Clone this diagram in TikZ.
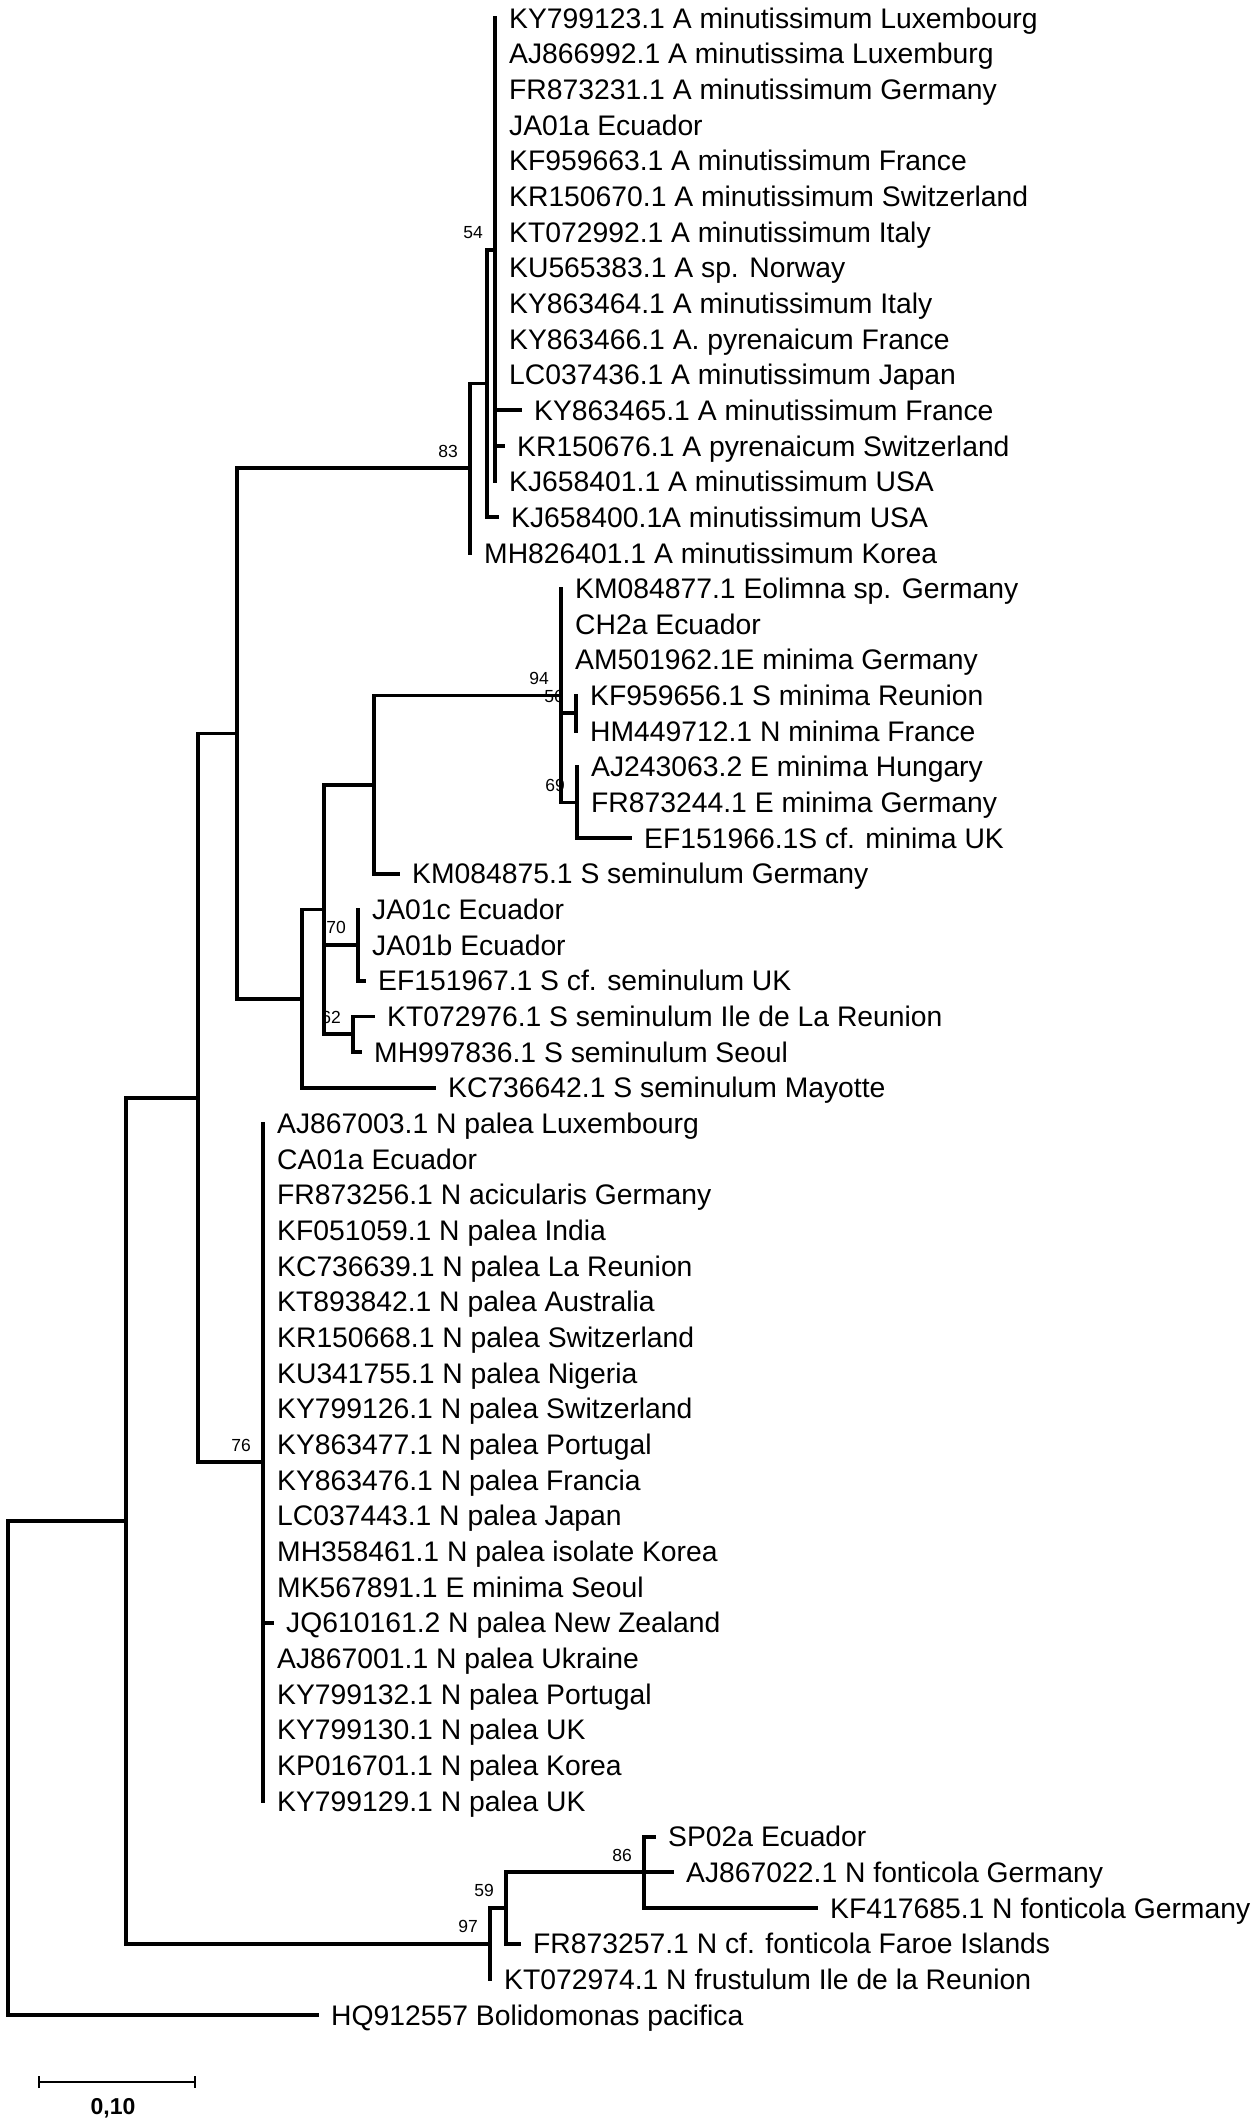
\documentclass[tikz,border=0pt]{standalone}
\usepackage{fontspec}
\setmainfont{Liberation Sans}
\usetikzlibrary{positioning,arrows.meta}

\begin{document}
\begin{tikzpicture}[
    x=1pt, y=-35.66pt,
    node distance = 14pt,
    leaf/.style={font={\fontsize{28.3pt}{30pt}\selectfont},inner sep=0pt,text height=20.2pt,text depth=0pt},
    boot/.style={font={\fontsize{17.5pt}{20pt}\selectfont},inner sep=0pt,text height=12.5pt,text depth=0pt,anchor=south east,xshift=-12pt,yshift=11pt},
    branch/.style={line width=3.8pt,line cap=rect},
    scalebar/.style={line width=2pt,{Bar[width=12pt,line width=2pt]}-{Bar[width=12pt,line width=2pt]}},
]

    \useasboundingbox (0,0.4952) rectangle (1254,60.114);

    % Internal nodes
    \coordinate (root) at (8,50.0703);
    \coordinate (nA)  at (126,43.1406);
    \coordinate (nB)  at (198,31.2813);
    \coordinate (nC)  at (237,21.0625);
    \coordinate (n83) at (470,13.625);
    \coordinate (nG)  at (487,11.25);
    \coordinate (n54) at (495,7.5);
    \coordinate (nD)  at (302,28.5);
    \coordinate (nE)  at (324,26);
    \coordinate (nF)  at (374,22.5);
    \coordinate (n94) at (561,20);
    \coordinate (n56) at (576,20.5);
    \coordinate (n69) at (577,23);
    \coordinate (n70) at (358,27);
    \coordinate (n62) at (353,29.5);
    \coordinate (n76) at (263,41.5);
    \coordinate (n97) at (490,55);
    \coordinate (n59) at (506,54);
    \coordinate (n86) at (644,53);

    % Achnanthidium
    \coordinate (t1) at (495,1);   \node[leaf,right=of t1] (l1) {KY799123.1 A minutissimum Luxembourg};
    \coordinate (t2) at (495,2);   \node[leaf,right=of t2] (l2) {AJ866992.1 A minutissima Luxemburg};
    \coordinate (t3) at (495,3);   \node[leaf,right=of t3] (l3) {FR873231.1 A minutissimum Germany};
    \coordinate (t4) at (495,4);   \node[leaf,right=of t4] (l4) {JA01a Ecuador};
    \coordinate (t5) at (495,5);   \node[leaf,right=of t5] (l5) {KF959663.1 A minutissimum France};
    \coordinate (t6) at (495,6);   \node[leaf,right=of t6] (l6) {KR150670.1 A minutissimum Switzerland};
    \coordinate (t7) at (495,7);   \node[leaf,right=of t7] (l7) {KT072992.1 A minutissimum Italy};
    \coordinate (t8) at (495,8);   \node[leaf,right=of t8] (l8) {KU565383.1 A sp. Norway};
    \coordinate (t9) at (495,9);   \node[leaf,right=of t9] (l9) {KY863464.1 A minutissimum Italy};
    \coordinate (t10) at (495,10); \node[leaf,right=of t10] (l10) {KY863466.1 A. pyrenaicum France};
    \coordinate (t11) at (495,11); \node[leaf,right=of t11] (l11) {LC037436.1 A minutissimum Japan};
    \coordinate (t12) at (520,12); \node[leaf,right=of t12] (l12) {KY863465.1 A minutissimum France};
    \coordinate (t13) at (503,13); \node[leaf,right=of t13] (l13) {KR150676.1 A pyrenaicum Switzerland};
    \coordinate (t14) at (495,14); \node[leaf,right=of t14] (l14) {KJ658401.1 A minutissimum USA};
    \coordinate (t15) at (497,15); \node[leaf,right=of t15] (l15) {KJ658400.1A minutissimum USA};
    \coordinate (t16) at (470,16); \node[leaf,right=of t16] (l16) {MH826401.1 A minutissimum Korea};

    % Eolimna / Sellaphora
    \coordinate (t17) at (561,17); \node[leaf,right=of t17] (l17) {KM084877.1 Eolimna sp. Germany};
    \coordinate (t18) at (561,18); \node[leaf,right=of t18] (l18) {CH2a Ecuador};
    \coordinate (t19) at (561,19); \node[leaf,right=of t19] (l19) {AM501962.1E minima Germany};
    \coordinate (t20) at (576,20); \node[leaf,right=of t20] (l20) {KF959656.1 S minima Reunion};
    \coordinate (t21) at (576,21); \node[leaf,right=of t21] (l21) {HM449712.1 N minima France};
    \coordinate (t22) at (577,22); \node[leaf,right=of t22] (l22) {AJ243063.2 E minima Hungary};
    \coordinate (t23) at (577,23); \node[leaf,right=of t23] (l23) {FR873244.1 E minima Germany};
    \coordinate (t24) at (630,24); \node[leaf,right=of t24] (l24) {EF151966.1S cf. minima UK};
    \coordinate (t25) at (398,25); \node[leaf,right=of t25] (l25) {KM084875.1 S seminulum Germany};
    \coordinate (t26) at (358,26); \node[leaf,right=of t26] (l26) {JA01c Ecuador};
    \coordinate (t27) at (358,27); \node[leaf,right=of t27] (l27) {JA01b Ecuador};
    \coordinate (t28) at (364,28); \node[leaf,right=of t28] (l28) {EF151967.1 S cf. seminulum UK};
    \coordinate (t29) at (373,29); \node[leaf,right=of t29] (l29) {KT072976.1 S seminulum Ile de La Reunion};
    \coordinate (t30) at (360,30); \node[leaf,right=of t30] (l30) {MH997836.1 S seminulum Seoul};
    \coordinate (t31) at (434,31); \node[leaf,right=of t31] (l31) {KC736642.1 S seminulum Mayotte};

    % Nitzschia palea
    \coordinate (t32) at (263,32); \node[leaf,right=of t32] (l32) {AJ867003.1 N palea Luxembourg};
    \coordinate (t33) at (263,33); \node[leaf,right=of t33] (l33) {CA01a Ecuador};
    \coordinate (t34) at (263,34); \node[leaf,right=of t34] (l34) {FR873256.1 N acicularis Germany};
    \coordinate (t35) at (263,35); \node[leaf,right=of t35] (l35) {KF051059.1 N palea India};
    \coordinate (t36) at (263,36); \node[leaf,right=of t36] (l36) {KC736639.1 N palea La Reunion};
    \coordinate (t37) at (263,37); \node[leaf,right=of t37] (l37) {KT893842.1 N palea Australia};
    \coordinate (t38) at (263,38); \node[leaf,right=of t38] (l38) {KR150668.1 N palea Switzerland};
    \coordinate (t39) at (263,39); \node[leaf,right=of t39] (l39) {KU341755.1 N palea Nigeria};
    \coordinate (t40) at (263,40); \node[leaf,right=of t40] (l40) {KY799126.1 N palea Switzerland};
    \coordinate (t41) at (263,41); \node[leaf,right=of t41] (l41) {KY863477.1 N palea Portugal};
    \coordinate (t42) at (263,42); \node[leaf,right=of t42] (l42) {KY863476.1 N palea Francia};
    \coordinate (t43) at (263,43); \node[leaf,right=of t43] (l43) {LC037443.1 N palea Japan};
    \coordinate (t44) at (263,44); \node[leaf,right=of t44] (l44) {MH358461.1 N palea isolate Korea};
    \coordinate (t45) at (263,45); \node[leaf,right=of t45] (l45) {MK567891.1 E minima Seoul};
    \coordinate (t46) at (272,46); \node[leaf,right=of t46] (l46) {JQ610161.2 N palea New Zealand};
    \coordinate (t47) at (263,47); \node[leaf,right=of t47] (l47) {AJ867001.1 N palea Ukraine};
    \coordinate (t48) at (263,48); \node[leaf,right=of t48] (l48) {KY799132.1 N palea Portugal};
    \coordinate (t49) at (263,49); \node[leaf,right=of t49] (l49) {KY799130.1 N palea UK};
    \coordinate (t50) at (263,50); \node[leaf,right=of t50] (l50) {KP016701.1 N palea Korea};
    \coordinate (t51) at (263,51); \node[leaf,right=of t51] (l51) {KY799129.1 N palea UK};

    % Nitzschia fonticola and outgroup
    \coordinate (t52) at (654,52); \node[leaf,right=of t52] (l52) {SP02a Ecuador};
    \coordinate (t53) at (672,53); \node[leaf,right=of t53] (l53) {AJ867022.1 N fonticola Germany};
    \coordinate (t54) at (816,54); \node[leaf,right=of t54] (l54) {KF417685.1 N fonticola Germany};
    \coordinate (t55) at (519,55); \node[leaf,right=of t55] (l55) {FR873257.1 N cf. fonticola Faroe Islands};
    \coordinate (t56) at (490,56); \node[leaf,right=of t56] (l56) {KT072974.1 N frustulum Ile de la Reunion};
    \coordinate (t57) at (317,57); \node[leaf,right=of t57] (l57) {HQ912557 Bolidomonas pacifica};

    % Bootstrap values
    \node[boot] (b54) at (n54) {54};
    \node[boot] (b83) at (n83) {83};
    \node[boot] (b94) at (n94) {94};
    \node[boot] (b56) at (n56) {56};
    \node[boot] (b69) at (n69) {69};
    \node[boot] (b70) at (n70) {70};
    \node[boot] (b62) at (n62) {62};
    \node[boot] (b76) at (n76) {76};
    \node[boot] (b86) at (n86) {86};
    \node[boot] (b59) at (n59) {59};
    \node[boot] (b97) at (n97) {97};

    % Branches
    \draw[branch] (n54) -- (t1) (n54) -- (t2) (n54) -- (t3) (n54) -- (t4) (n54) -- (t5) (n54) -- (t6)
                  (n54) -- (t7) (n54) -- (t8) (n54) -- (t9) (n54) -- (t10) (n54) -- (t11)
                  (n54) |- (t12) (n54) |- (t13) (n54) -- (t14);
    \draw[branch] (nG) |- (n54) (nG) |- (t15);
    \draw[branch] (n83) |- (nG) (n83) -- (t16);
    \draw[branch] (n94) -- (t17) (n94) -- (t18) (n94) -- (t19) (n94) |- (n56) (n94) |- (n69);
    \draw[branch] (n56) -- (t20) (n56) -- (t21);
    \draw[branch] (n69) -- (t22) (n69) -- (t23) (n69) |- (t24);
    \draw[branch] (nF) |- (n94) (nF) |- (t25);
    \draw[branch] (n70) -- (t26) (n70) -- (t27) (n70) |- (t28);
    \draw[branch] (n62) |- (t29) (n62) |- (t30);
    \draw[branch] (nE) |- (nF) (nE) |- (n70) (nE) |- (n62);
    \draw[branch] (nD) |- (nE) (nD) |- (t31);
    \draw[branch] (nC) |- (n83) (nC) |- (nD);
    \draw[branch] (n76) -- (t32) (n76) -- (t51) (n76) |- (t46);
    \draw[branch] (nB) |- (nC) (nB) |- (n76);
    \draw[branch] (n86) |- (t52) (n86) |- (t53) (n86) |- (t54);
    \draw[branch] (n59) |- (n86) (n59) |- (t55);
    \draw[branch] (n97) |- (n59) (n97) -- (t56);
    \draw[branch] (nA) |- (nB) (nA) |- (n97);
    \draw[branch] (root) |- (nA) (root) |- (t57);

    % Scale bar
    \coordinate (sbl) at (38,58.88);
    \coordinate (sbr) at (196,58.88);
    \draw[scalebar] (sbl) -- (sbr);
    \node[font={\bfseries\fontsize{23pt}{25pt}\selectfont},inner sep=0pt] (sbtext) at (113,59.61) {0,10};

\end{tikzpicture}
\end{document}
